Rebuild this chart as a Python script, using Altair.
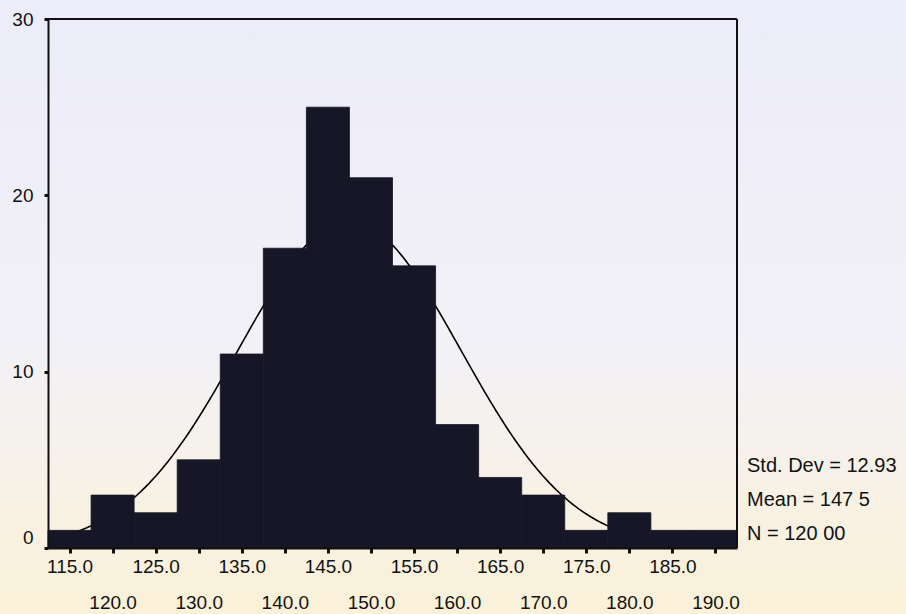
import altair as alt
import pandas as pd

# ---- data ----
bin_centers = [115, 120, 125, 130, 135, 140, 145, 150, 155, 160, 165, 170, 175, 180, 185, 190]
counts = [1, 3, 2, 5, 11, 17, 25, 21, 16, 7, 4, 3, 1, 2, 1, 1]
y_ticks = [0, 10, 20, 30]
stats_lines = ["Std. Dev = 12.93", "Mean = 147 5", "N = 120 00"]
mean_value = 147.5
std_dev = 12.93
n_cases = 120
bin_width = 5

df = pd.DataFrame({"center": bin_centers, "count": counts})

FONT = "Liberation Sans"
X_DOMAIN = [112.5, 192.5]
Y_DOMAIN = [0, 30]
BAR_COLOR = "#161626"
INK = "#111111"
W, H = 689, 529

x_scale = alt.Scale(domain=X_DOMAIN, nice=False, zero=False)
y_scale = alt.Scale(domain=Y_DOMAIN, nice=False)

x_axis = alt.Axis(
    values=bin_centers,
    format=".1f",
    grid=False,
    zindex=2,
    labelFont=FONT,
    labelFontSize=19,
    labelColor=INK,
    labelFlush=False,
    labelOverlap=False,
    labelBaseline="top",
    labelPadding={"condition": {"test": "datum.value % 10 === 0", "value": 40}, "value": 4},
    tickColor=INK,
    tickSize=5,
    tickWidth=3,
    domainColor=INK,
    domainWidth=2,
)
y_axis = alt.Axis(
    values=y_ticks,
    grid=False,
    zindex=2,
    labelFont=FONT,
    labelFontSize=19,
    labelColor=INK,
    labelPadding=11,
    labelOffset={"condition": {"test": "datum.value === 0", "value": -11}, "value": 0},
    tickColor=INK,
    tickSize=4,
    tickWidth=3,
    domainColor=INK,
    domainWidth=2,
)

one_row = alt.Data(values=[{"a": 1}])

# soft background wash (like the scanned watermark)
background = alt.Chart(one_row).mark_rect(
    clip=False,
    color=alt.Gradient(
        gradient="linear",
        stops=[
            alt.GradientStop(color="#ececfa", offset=0),
            alt.GradientStop(color="#f2f1f7", offset=0.55),
            alt.GradientStop(color="#fbf1d8", offset=1),
        ],
        x1=0, x2=0, y1=0, y2=1,
    ),
).encode(
    x=alt.value(-48), x2=alt.value(858), y=alt.value(-19), y2=alt.value(595)
)

# normal curve (drawn behind the bars, as in SPSS)
curve = alt.Chart(alt.sequence(X_DOMAIN[0], X_DOMAIN[1] + 0.01, 0.25, as_="v")).transform_calculate(
    density=f"{n_cases * bin_width} * exp(-0.5 * pow((datum.v - {mean_value}) / {std_dev}, 2)) / ({std_dev} * sqrt(2 * PI))"
).mark_line(color="black", strokeWidth=1.6).encode(
    x=alt.X("v:Q", scale=x_scale, title=None, axis=x_axis),
    y=alt.Y("density:Q", scale=y_scale, title=None, axis=y_axis),
)

bars = alt.Chart(df).transform_calculate(
    lo=f"datum.center - {bin_width / 2}",
    hi=f"datum.center + {bin_width / 2}",
).mark_rect(color=BAR_COLOR, stroke=BAR_COLOR, strokeWidth=0.8).encode(
    x=alt.X("lo:Q", scale=x_scale, title=None, axis=x_axis),
    x2="hi:Q",
    y=alt.Y("count:Q", scale=y_scale, title=None, axis=y_axis),
    y2=alt.datum(0),
)

# frame: top and right edges of the plot box
frame_top = alt.Chart(one_row).mark_rule(color=INK, strokeWidth=2).encode(
    x=alt.value(0), x2=alt.value(W), y=alt.value(0)
)
frame_right = alt.Chart(one_row).mark_rule(color=INK, strokeWidth=2).encode(
    x=alt.value(W), y=alt.value(0), y2=alt.value(H)
)

stat_layers = []
for i, line in enumerate(stats_lines):
    stat_layers.append(
        alt.Chart(alt.Data(values=[{"t": line}])).mark_text(
            align="left", baseline="middle", font=FONT, fontSize=20, color=INK, clip=False
        ).encode(text="t:N", x=alt.value(699), y=alt.value(447 + i * 34))
    )

chart = alt.layer(background, curve, bars, frame_top, frame_right, *stat_layers).properties(
    width=W,
    height=H,
    padding={"left": 48, "top": 19, "right": 906 - 48 - W, "bottom": 614 - 19 - H},
    autosize=alt.AutoSizeParams(type="none"),
    background="white",
).configure_view(stroke=None, strokeWidth=0)

chart.save("out.html", embed_options={"renderer": "svg", "actions": False})
